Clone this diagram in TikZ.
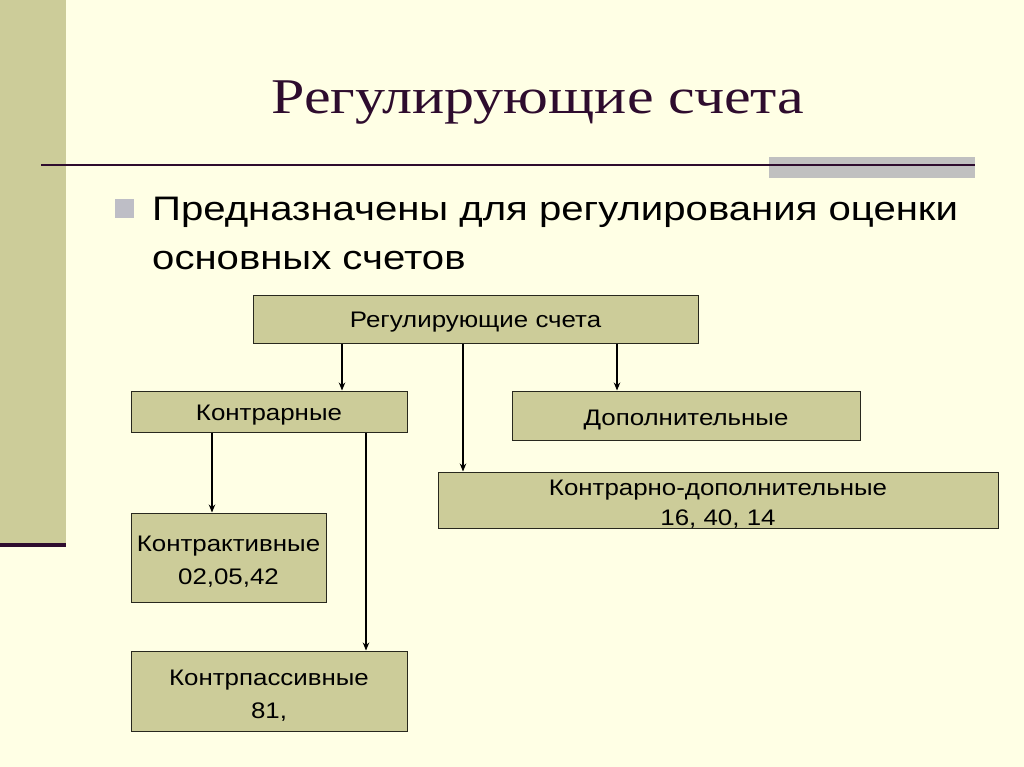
\documentclass[tikz,border=0pt]{standalone}
\usepackage{fontspec}
\setmainfont{Liberation Sans}
\newfontfamily\titlefont{Liberation Serif}[FakeStretch=1.2]
\newfontfamily\bulfont{Liberation Sans}[FakeStretch=1.18]
\newfontfamily\boxfont{Liberation Sans}[FakeStretch=1.15]
\usetikzlibrary{arrows.meta}
\definecolor{bg}{RGB}{255,255,229}
\definecolor{olive}{RGB}{204,204,153}
\definecolor{plum}{RGB}{46,12,46}
\definecolor{bargray}{RGB}{192,192,192}
\definecolor{bulgray}{RGB}{190,190,198}
\definecolor{edge}{RGB}{40,40,30}
\tikzset{
  box/.style={draw=edge, line width=1pt, fill=olive, inner sep=0pt},
  boxtext/.style={inner sep=0pt, align=center, font=\boxfont\fontsize{22.5}{33}\selectfont},
  bul/.style={anchor=base west, inner sep=0pt, font=\bulfont\fontsize{34}{49}\selectfont},
  arr/.style={draw=black, line width=1.1pt, -{Stealth[length=8pt,width=6.5pt]}}
}
\begin{document}
\begin{tikzpicture}[x=1pt,y=-1pt]
\useasboundingbox (0,0) rectangle (1024,767);
\fill[bg] (0,0) rectangle (1024,767);
% left band
\fill[olive] (0,0) rectangle (66,545);
\draw[plum, line width=4pt] (0,545) -- (66,545);
% title rule
\fill[bargray] (769,157) rectangle (975,178);
\draw[plum, line width=2pt] (41,165) -- (975,165);
% title
\node[anchor=base, text=plum, font=\titlefont\fontsize{50}{60}\selectfont, inner sep=0pt] (title) at (538,114) {Регулирующие счета};
% bullet
\fill[bulgray] (115,199) rectangle (134,218);
\node[bul] (l1) at (152,221) {Предназначены для регулирования оценки};
\node[bul] (l2) at (152,269) {основных счетов};
% boxes
\node[box, minimum width=445pt, minimum height=48pt] (top) at (475.5,319) {};
\node[box, minimum width=276pt, minimum height=41pt] (contr) at (269,411.5) {};
\node[box, minimum width=348pt, minimum height=49pt] (dop) at (686,415.5) {};
\node[box, minimum width=560pt, minimum height=56pt] (kd) at (718,500) {};
\node[box, minimum width=195pt, minimum height=89pt] (ka) at (228.5,557.5) {};
\node[box, minimum width=276pt, minimum height=80pt] (kp) at (269,691) {};
% box texts
\node[boxtext] (topt) at ([yshift=-3pt]top.center) {Регулирующие счета};
\node[boxtext] (contrt) at ([yshift=-4pt]contr.center) {Контрарные};
\node[boxtext] (dopt) at ([yshift=-4pt]dop.center) {Дополнительные};
\node[boxtext] (kdt) at ([yshift=-4pt]kd.center) {Контрарно-дополнительные\\[-3pt]16, 40, 14};
\node[boxtext] (kat) at ([yshift=-4.5pt]ka.center) {Контрактивные\\02,05,42};
\node[boxtext] (kpt) at ([yshift=-5pt]kp.center) {Контрпассивные\\81,};
% arrow columns
\coordinate (c1) at (342,0);
\coordinate (c2) at (463,0);
\coordinate (c3) at (617,0);
\coordinate (c4) at (212,0);
\coordinate (c5) at (366,0);
\draw[arr] (top.south -| c1) -- (contr.north -| c1);
\draw[arr] (top.south -| c2) -- (kd.north -| c2);
\draw[arr] (top.south -| c3) -- (dop.north -| c3);
\draw[arr] (contr.south -| c4) -- (ka.north -| c4);
\draw[arr] (contr.south -| c5) -- (kp.north -| c5);
\end{tikzpicture}
\end{document}
